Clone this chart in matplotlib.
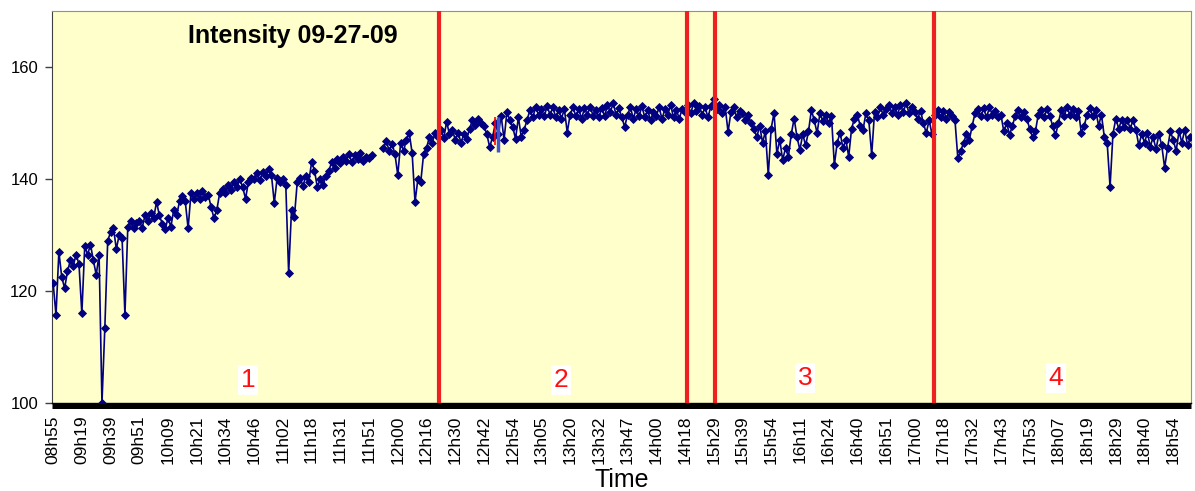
import numpy as np
import matplotlib.pyplot as plt

plt.rcParams['font.family'] = ['Liberation Sans', 'DejaVu Sans']

# Time labels on the category axis (one every 10 samples)
time_labels = [
    "08h55", "09h19", "09h39", "09h51", "10h09", "10h21", "10h34", "10h46",
    "11h02", "11h18", "11h31", "11h51", "12h00", "12h16", "12h30", "12h42",
    "12h54", "13h05", "13h20", "13h32", "13h47", "14h00", "14h18", "15h29",
    "15h39", "15h54", "16h11", "16h24", "16h40", "16h51", "17h00", "17h18",
    "17h32", "17h43", "17h53", "18h07", "18h19", "18h29", "18h40", "18h54",
]
samples_per_label = 10

# Intensity readings, one row per label interval,
# nan = missing data
intensity = [
    121.4, 115.7, 127.0, 122.5, 120.5, 123.5, 125.5, 124.5, 126.5, 124.8,
    116.0, 128.0, 126.5, 128.3, 125.5, 122.9, 126.5, 100.0, 113.4, 129.0,
    130.5, 131.3, 127.5, 130.0, 129.5, 115.7, 131.5, 132.5, 131.2, 132.2,
    132.5, 131.3, 133.5, 132.5, 134.0, 133.0, 135.9, 133.5, 132.0, 131.0,
    133.0, 131.5, 134.5, 133.5, 136.0, 137.0, 136.0, 131.2, 137.5, 136.5,
    137.5, 136.5, 137.8, 136.8, 137.2, 135.0, 133.0, 134.5, 137.5, 138.2,
    137.5, 139.0, 138.0, 139.5, 138.5, 140.0, 138.5, 136.5, 139.5, 140.2,
    140.0, 141.0, 139.8, 141.3, 140.5, 141.8, 140.8, 135.7, 140.2, 139.5,
    140.0, 139.0, 123.2, 134.5, 133.2, 139.5, 140.2, 138.8, 140.5, 139.5,
    143.0, 141.5, 138.5, 140.0, 139.0, 140.5, 141.5, 143.0, 142.0, 143.5,
    142.8, 144.0, 143.3, 144.5, 143.0, 144.3, 143.5, 144.6, 143.2, 144.0,
    143.8, 144.2, np.nan, np.nan, np.nan, 145.5, 146.8, 145.0, 146.3, 144.5,
    140.7, 146.5, 145.0, 147.0, 148.2, 144.6, 135.9, 140.0, 139.5, 144.5,
    145.5, 147.5, 146.5, 148.3, 147.5, 148.8, 147.3, 150.2, 148.0, 148.8,
    147.0, 148.3, 146.5, 148.0, 147.2, 149.0, 150.5, 149.6, 150.8, 150.0,
    149.5, 148.0, 145.7, 147.5, 150.0, 148.0, 151.3, 147.0, 152.0, 150.5,
    149.3, 147.2, 151.0, 147.5, 148.8, 150.5, 152.3, 151.0, 152.8, 151.5,
    152.5, 151.2, 153.0, 151.5, 152.8, 151.0, 152.3, 150.8, 152.5, 148.3,
    151.5, 152.8, 151.2, 152.5, 150.8, 152.6, 151.5, 152.9, 151.3, 152.4,
    151.0, 152.6, 151.2, 153.2, 152.0, 153.5, 151.5, 152.6, 151.0, 149.3,
    151.5, 152.8, 150.8, 152.5, 151.2, 153.0, 151.0, 152.3, 150.5, 152.0,
    151.3, 152.8, 150.7, 152.5, 151.5, 153.2, 151.0, 152.3, 150.8, 152.5,
    152.0, 153.2, 151.8, 153.5, 152.2, 153.0, 151.5, 152.8, 151.0, 153.0,
    154.3, 152.5, 153.2, 151.8, 152.8, 148.4, 152.0, 152.8, 151.0, 152.2,
    151.8, 150.5, 151.5, 150.0, 149.0, 147.5, 149.5, 146.5, 148.5, 140.7,
    149.0, 151.8, 144.5, 147.0, 143.4, 145.5, 144.0, 148.0, 150.8, 147.5,
    145.2, 148.0, 146.0, 148.5, 152.3, 150.5, 148.2, 151.8, 150.3, 151.5,
    150.0, 151.2, 142.5, 146.5, 148.3, 145.5, 147.0, 144.0, 149.0, 150.8,
    151.5, 149.5, 148.8, 151.8, 150.5, 144.3, 152.0, 151.0, 152.8, 151.5,
    152.5, 153.3, 151.8, 152.8, 151.5, 153.2, 152.0, 153.5, 151.8, 152.8,
    152.0, 150.8, 152.2, 150.0, 148.2, 150.5, 148.0, 151.5, 152.3, 151.0,
    152.2, 150.8, 152.0, 151.2, 150.5, 143.7, 145.0, 146.5, 148.0, 147.0,
    149.5, 151.8, 152.5, 151.2, 152.6, 151.0, 152.8, 151.5, 152.2, 151.0,
    151.5, 148.5, 150.0, 147.9, 149.5, 151.3, 152.3, 151.0, 152.0, 150.8,
    149.0, 147.5, 148.5, 151.5, 152.3, 151.0, 152.5, 151.3, 149.5, 147.8,
    150.0, 152.3, 151.2, 152.8, 151.5, 152.5, 151.0, 152.2, 148.2, 149.5,
    151.5, 152.6, 151.2, 152.3, 149.5, 151.5, 147.5, 146.4, 138.6, 148.0,
    150.8, 149.0, 150.5, 149.3, 150.6, 149.0, 150.5, 148.8, 146.0, 148.0,
    146.5, 148.3, 145.8, 147.5, 145.3, 148.0, 146.0, 142.0, 145.5, 148.5,
    147.0, 145.0, 148.5, 146.5, 148.8, 146.0, 147.5,
]

# Phase boundaries (in label units) and phase numbers
phase_lines = [13.45, 22.08, 23.05, 30.67]
phase_names = ["1", "2", "3", "4"]
phase_text_x = [6.79, 17.69, 26.18, 34.92]
phase_text_y = [104.1, 104.1, 104.4, 104.4]

fig = plt.figure(figsize=(11.95, 4.91), dpi=100)
ax = fig.add_axes([0.0435, 0.1792, 0.9532, 0.7984])
ax.set_facecolor("#FFFFCC")

x = np.arange(len(intensity)) / samples_per_label
ax.plot(x, intensity, color="#000080", lw=1.2, marker="D", markersize=4.2,
        markeredgewidth=0.6, zorder=3)

# small coloured marks near 12h42 (as on the original)
ax.vlines(15.38, 146.0, 151.0, color="red", lw=1.2, zorder=4)
ax.vlines(15.48, 144.8, 151.0, color="#4455CC", lw=2.5, zorder=4)

for xl in phase_lines:
    ax.axvline(xl, color="#EE2020", lw=3, zorder=5)

for xt, yt, name in zip(phase_text_x, phase_text_y, phase_names):
    ax.text(xt, yt, name, color="#FF1010", fontsize=19, ha="center", va="center",
            bbox=dict(facecolor="white", edgecolor="none", pad=2), zorder=6)

ax.text(0.2116, 0.935, "Intensity 09-27-09", transform=ax.transAxes,
        fontsize=18, fontweight="bold", ha="center", va="center")

ax.set_xlim(-0.04, 39.62)
ax.set_ylim(100, 170)
ax.set_yticks([100, 120, 140, 160])
ax.tick_params(axis="y", labelsize=12, length=5, width=1, color="#404040", pad=5)

ax.set_xticks(np.arange(len(time_labels)))
ax.set_xticklabels(time_labels, rotation=90, fontsize=12.5)
ax.tick_params(axis="x", length=0, pad=9)
ax.set_xlabel("Time", fontsize=18, labelpad=3)

for side in ["top", "right"]:
    ax.spines[side].set_color("#909090")
ax.spines["left"].set_color("#404040")
ax.spines["bottom"].set_color("black")
ax.spines["bottom"].set_linewidth(1)

# thick black band under the plot (dense category ticks in the original)
ax.plot([0, 1], [-0.0065, -0.0065], transform=ax.transAxes, color="black",
        lw=3.6, clip_on=False, solid_capstyle="butt", zorder=2)

fig.savefig("out.png", dpi=100)
